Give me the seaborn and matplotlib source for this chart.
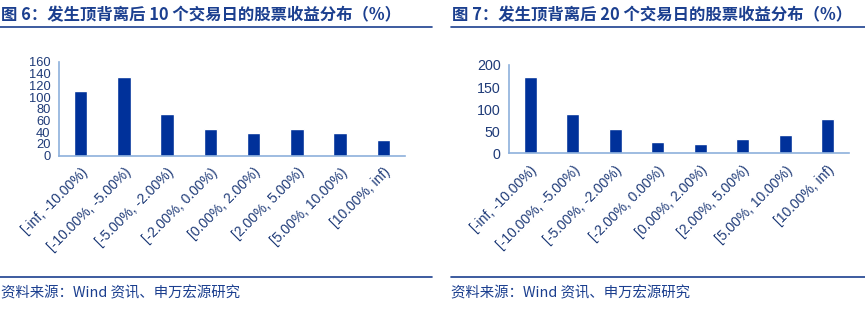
import matplotlib
matplotlib.use("Agg")
import matplotlib.pyplot as plt
from matplotlib.lines import Line2D
from matplotlib.ticker import FixedLocator
import seaborn as sns

sns.set_style("white")
plt.rcParams['font.family'] = ['Liberation Sans', 'Noto Sans CJK SC', 'DejaVu Sans']

categories = ["[-inf, -10.00%)", "[-10.00%, -5.00%)", "[-5.00%, -2.00%)", "[-2.00%, 0.00%)",
              "[0.00%, 2.00%)", "[2.00%, 5.00%)", "[5.00%, 10.00%)", "[10.00%, inf)"]
values_10d = [110, 134, 71, 46, 38, 45, 38, 27]
values_20d = [173, 89, 55, 26, 21, 32, 41, 78]
title_10d = "图 6：发生顶背离后 10 个交易日的股票收益分布（%）"
title_20d = "图 7：发生顶背离后 20 个交易日的股票收益分布（%）"
source_text = "资料来源：Wind 资讯、申万宏源研究"
yticks_10d = [0, 20, 40, 60, 80, 100, 120, 140, 160]
yticks_20d = [0, 50, 100, 150, 200]

BAR = "#00319a"
NAVY = "#1b3f8f"
AXIS = "#8db0dc"
TICKTXT = "#1f3b78"

W, H = 865, 330
fig = plt.figure(figsize=(W / 100, H / 100), dpi=100)

def px_axes(left, top, right, bottom):
    return fig.add_axes([left / W, 1 - bottom / H, (right - left) / W, (bottom - top) / H])

def draw(ax, vals, yt, ysize):
    sns.barplot(x=categories, y=vals, ax=ax, color=BAR, saturation=1, width=0.31)
    ax.set_xlim(-0.5, len(categories) - 0.5)
    ax.set_ylim(yt[0], yt[-1])
    ax.set_yticks(yt)
    ax.set_yticklabels([str(v) for v in yt], fontsize=ysize, color=TICKTXT)
    ax.set_xticks(range(len(categories)))
    ax.set_xticklabels(categories, rotation=45, ha="right", rotation_mode="anchor",
                       fontsize=10.0, color=TICKTXT)
    ax.xaxis.set_minor_locator(FixedLocator([i - 0.5 for i in range(len(categories) + 1)]))
    ax.tick_params(axis="x", which="major", length=0, pad=7)
    ax.tick_params(axis="x", which="minor", length=4, color=AXIS, width=1, direction="out")
    ax.tick_params(axis="y", length=4, color=AXIS, width=1, direction="out", pad=2)
    for s in ["top", "right"]:
        ax.spines[s].set_visible(False)
    for s in ["left", "bottom"]:
        ax.spines[s].set_color(AXIS)
        ax.spines[s].set_linewidth(1.2)
    ax.set_xlabel("")
    ax.set_ylabel("")
    ax.grid(False)
    ax.patch.set_alpha(0)

ax1 = px_axes(59, 62, 405, 155.5)
draw(ax1, values_10d, yticks_10d, 9.3)
ax2 = px_axes(509, 65, 849, 153.5)
draw(ax2, values_20d, yticks_20d, 10.3)

tfam = ['Noto Sans CJK SC', 'DejaVu Sans']
fig.text(1 / W, 1 - 15 / H, title_10d, fontsize=11.8, fontweight="bold", color=NAVY,
         va="center", ha="left", family=tfam)
fig.text(452 / W, 1 - 15 / H, title_20d, fontsize=11.8, fontweight="bold", color=NAVY,
         va="center", ha="left", family=tfam)
fig.text(1 / W, 1 - 293 / H, source_text, fontsize=10.4, color=NAVY, va="center", ha="left", family=tfam)
fig.text(451 / W, 1 - 293 / H, source_text, fontsize=10.4, color=NAVY, va="center", ha="left", family=tfam)

for (x0, x1) in [(0, 432), (451, 865)]:
    for y in (26.5, 276.5):
        fig.add_artist(Line2D([x0 / W, x1 / W], [1 - y / H, 1 - y / H], color=NAVY, lw=1.2))

fig.savefig("out.png", dpi=100, facecolor="white")
